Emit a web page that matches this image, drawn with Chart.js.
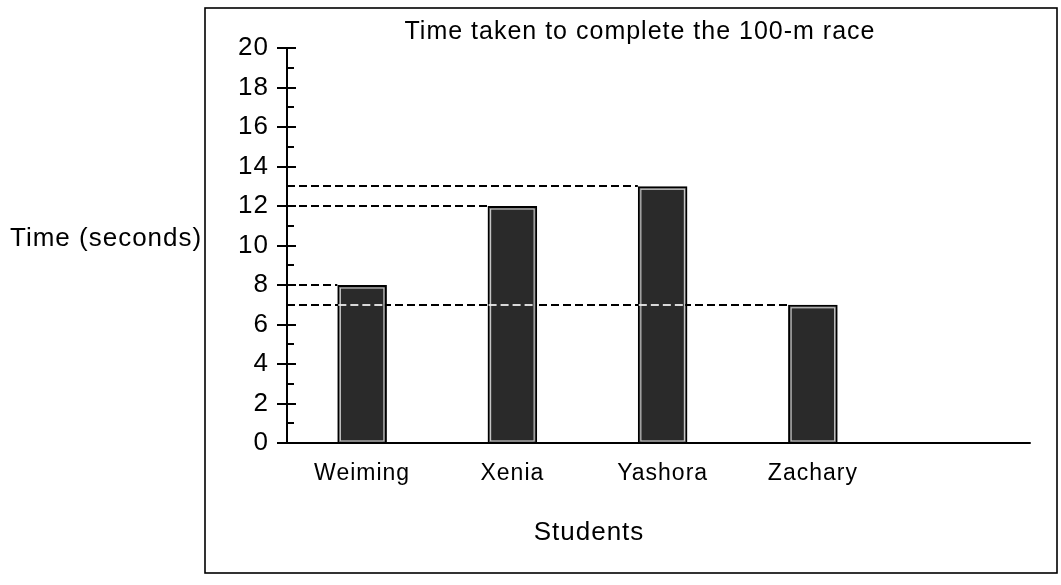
<!DOCTYPE html>
<html>
<head>
<meta charset="utf-8">
<title>Time taken to complete the 100-m race</title>
<script src="https://cdn.jsdelivr.net/npm/chart.js@4.4.1/dist/chart.umd.min.js"></script>
<style>
    html, body { margin: 0; padding: 0; background: #fff; }
    #wrap { position: relative; width: 1061px; height: 585px; }
</style>
</head>
<body>
<div id="wrap"><canvas id="raceChart"></canvas></div>
<script>
// values
const students = ['Weiming', 'Xenia', 'Yashora', 'Zachary'];
const times = [8, 12, 13, 7];
const yMin = 0;
const yMax = 20;
const yStep = 2;
const chartTitle = 'Time taken to complete the 100-m race';
const yTitle = 'Time (seconds)';
const xTitle = 'Students';

const FONT = '"Liberation Sans", Arial, Helvetica, sans-serif';
const INK = '#000';

// scan-like letter spacing for every piece of text
const spacing = {
    id: 'spacing',
    beforeUpdate(chart) { chart.ctx.letterSpacing = '1px'; },
    beforeDraw(chart) { chart.ctx.letterSpacing = '1px'; }
};

// dashed read-off lines from the y axis to each bar
const readOff = {
    id: 'readOff',
    beforeDatasetsDraw(chart) {
        const ctx = chart.ctx;
        const y = chart.scales.y;
        const meta = chart.getDatasetMeta(0);
        ctx.save();
        ctx.strokeStyle = INK;
        ctx.lineWidth = 2;
        ctx.setLineDash([8, 4]);
        meta.data.forEach((bar, i) => {
            const p = bar.getProps(['x', 'width'], true);
            const py = Math.round(y.getPixelForValue(times[i]));
            ctx.beginPath();
            ctx.moveTo(y.right, py);
            ctx.lineTo(p.x - p.width / 2, py);
            ctx.stroke();
        });
        ctx.restore();
    },
    afterDatasetsDraw(chart) {
        const ctx = chart.ctx;
        const y = chart.scales.y;
        const meta = chart.getDatasetMeta(0);
        ctx.save();
        // light inner rim of each bar
        meta.data.forEach((bar) => {
            const p = bar.getProps(['x', 'y', 'base', 'width'], true);
            ctx.strokeStyle = 'rgba(225,225,225,0.85)';
            ctx.lineWidth = 1.2;
            ctx.strokeRect(p.x - p.width / 2 + 3, p.y + 3, p.width - 6, p.base - p.y - 5);
        });
        // where a dashed line crosses a taller bar it shows up light
        ctx.strokeStyle = 'rgba(235,235,235,0.9)';
        ctx.lineWidth = 2;
        ctx.setLineDash([8, 4]);
        meta.data.forEach((bar, i) => {
            const py = Math.round(y.getPixelForValue(times[i]));
            for (let j = 0; j < i; j++) {
                if (times[j] <= times[i]) continue;
                const q = meta.data[j].getProps(['x', 'width'], true);
                ctx.beginPath();
                ctx.moveTo(q.x - q.width / 2 + 1, py);
                ctx.lineTo(q.x + q.width / 2 - 1, py);
                ctx.stroke();
            }
        });
        ctx.restore();
    }
};

// axis ticks, base line, frame and the free-standing texts
const decor = {
    id: 'decor',
    afterDraw(chart) {
        const ctx = chart.ctx;
        const x = chart.scales.x;
        const y = chart.scales.y;
        const ax = y.right;
        ctx.save();
        ctx.strokeStyle = INK;
        ctx.lineWidth = 2;
        for (let v = yMin; v <= yMax; v++) {
            const py = Math.round(y.getPixelForValue(v));
            ctx.beginPath();
            if (v % yStep === 0) {
                ctx.moveTo(ax - 10, py);
                ctx.lineTo(ax + 9, py);
            } else {
                ctx.moveTo(ax, py);
                ctx.lineTo(ax + 7, py);
            }
            ctx.stroke();
        }
        // x axis runs on past the last student
        const step = x.getPixelForValue(1) - x.getPixelForValue(0);
        const py0 = Math.round(y.getPixelForValue(yMin));
        ctx.beginPath();
        ctx.moveTo(ax - 10, py0);
        ctx.lineTo(x.right + step * 0.95, py0);
        ctx.stroke();

        // outer frame
        ctx.lineWidth = 1.6;
        ctx.strokeRect(205, 8, 852, 565);

        ctx.fillStyle = INK;
        ctx.textBaseline = 'alphabetic';
        ctx.font = '25px ' + FONT;
        ctx.textAlign = 'center';
        ctx.fillText(chartTitle, 640, 39);
        ctx.font = '26px ' + FONT;
        ctx.fillText(xTitle, 589, 540);
        ctx.textAlign = 'left';
        ctx.fillText(yTitle, 10, 246);
        ctx.restore();
    }
};

new Chart(document.getElementById('raceChart'), {
    type: 'bar',
    data: {
        labels: students,
        datasets: [{
            label: yTitle,
            data: times,
            backgroundColor: '#2a2a2a',
            borderColor: INK,
            borderWidth: 2,
            categoryPercentage: 1,
            barPercentage: 0.33
        }]
    },
    options: {
        responsive: true,
        maintainAspectRatio: false,
        animation: false,
        events: [],
        layout: { padding: { left: 0, top: 48, right: 173, bottom: 0 } },
        plugins: {
            legend: { display: false },
            tooltip: { enabled: false },
            title: { display: false }
        },
        scales: {
            x: {
                offset: true,
                grid: { display: false, drawTicks: false },
                border: { display: false },
                ticks: { color: INK, padding: 17, font: { family: FONT, size: 23 } },
                afterFit: (s) => { s.height = 142; }
            },
            y: {
                min: yMin,
                max: yMax,
                grid: { display: false, drawTicks: false },
                border: { display: true, color: INK, width: 2 },
                ticks: { stepSize: yStep, color: INK, padding: 18, font: { family: FONT, size: 26 } },
                afterFit: (s) => { s.width = 287; }
            }
        }
    },
    plugins: [spacing, readOff, decor]
});
</script>
</body>
</html>
